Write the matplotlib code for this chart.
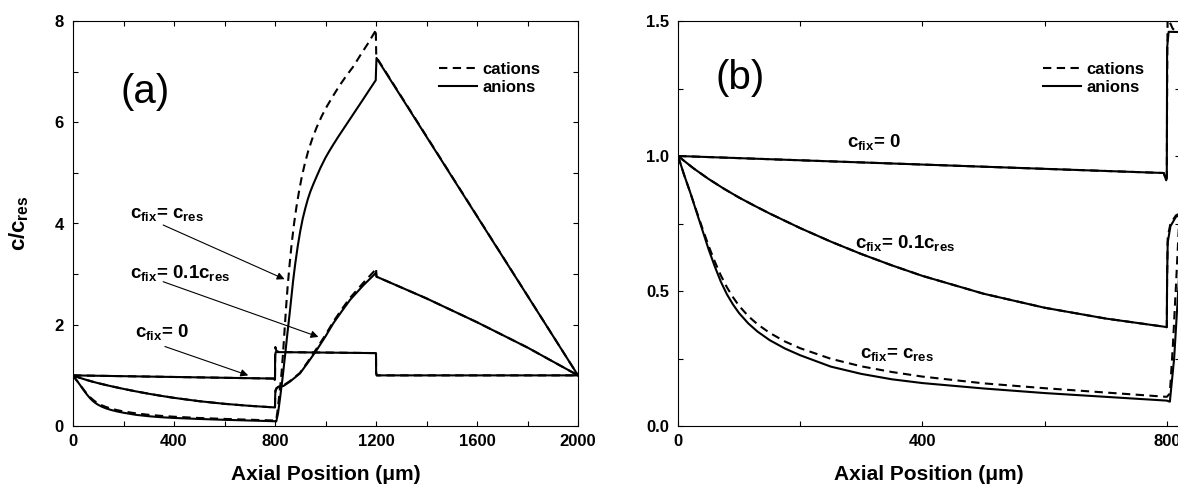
import numpy as np
import matplotlib
matplotlib.use('Agg')
from matplotlib import pyplot as plt
from matplotlib.font_manager import FontProperties
from matplotlib.ticker import MultipleLocator, FormatStrFormatter

plt.rcParams.update({
    'font.family': ['Liberation Sans', 'DejaVu Sans'],
    'font.weight': 'bold',
    'axes.labelweight': 'bold',
    'mathtext.fontset': 'custom',
    'mathtext.rm': 'Liberation Sans:bold',
    'mathtext.it': 'Liberation Sans:bold',
    'mathtext.bf': 'Liberation Sans:bold',
    'axes.linewidth': 0.8,
})

# c_fix = 0
x_zero = [0, 795, 799, 800, 800.5, 803, 1200, 1200.5, 1203, 2000]
anion_zero = [1.0, 0.937, 0.91, 0.92, 1.40, 1.46, 1.44, 1.05, 1.0, 1.0]
x_zero_cat = [0, 795, 799, 800, 800.6, 801.5, 804, 810, 830, 1200, 1200.5, 1203, 2000]
cation_zero = [1.0, 0.937, 0.91, 0.92, 1.30, 1.56, 1.50, 1.47, 1.46, 1.44, 1.05, 1.0, 1.0]

# c_fix = 0.1 c_res
x_tenth = [0, 25, 50, 75, 100, 125, 150, 200, 250, 300, 350, 400, 500, 600, 700, 795, 800, 800.5, 801.5,
           806, 815, 833, 860, 899, 930, 965, 1000, 1031, 1065, 1097, 1150, 1195, 1200, 1202,
           1400, 1600, 1800, 2000]
anion_tenth = [1.0, 0.955, 0.915, 0.879, 0.846, 0.816, 0.787, 0.733, 0.683, 0.637, 0.595, 0.556, 0.49, 0.438,
               0.398, 0.368, 0.366, 0.55, 0.68, 0.74, 0.775, 0.79, 0.88, 1.04, 1.25, 1.5, 1.77, 2.03, 2.27,
               2.49, 2.78, 3.0, 3.03, 2.95, 2.52, 2.05, 1.55, 1.0]
cation_tenth = [1.0, 0.955, 0.915, 0.879, 0.846, 0.816, 0.787, 0.733, 0.683, 0.637, 0.595, 0.556, 0.49, 0.438,
                0.398, 0.368, 0.366, 0.55, 0.70, 0.75, 0.78, 0.80, 0.89, 1.05, 1.27, 1.53, 1.80, 2.06, 2.31,
                2.53, 2.83, 3.07, 3.12, 2.95, 2.52, 2.05, 1.55, 1.0]

# c_fix = c_res
x_res = [0, 10, 20, 30, 40, 50, 60, 70, 80, 90, 100, 115, 130, 150, 175, 200, 250, 300, 350, 400, 500, 600,
         700, 800, 805, 812, 820, 830, 840, 850, 858, 865, 872, 880, 890, 900, 910, 920, 930, 940, 952, 965,
         980, 1000, 1015, 1031, 1050, 1070, 1090, 1110, 1130, 1150, 1175, 1199, 1200, 1202, 2000]
anion_res = [1.0, 0.93, 0.865, 0.795, 0.725, 0.655, 0.592, 0.535, 0.488, 0.45, 0.418, 0.38, 0.35, 0.318,
             0.287, 0.262, 0.22, 0.193, 0.173, 0.159, 0.139, 0.122, 0.108, 0.094, 0.09, 0.25, 0.55, 0.95,
             1.4, 1.87, 2.22, 2.55, 2.88, 3.2, 3.55, 3.85, 4.1, 4.3, 4.48, 4.63, 4.78, 4.93, 5.1, 5.3,
             5.43, 5.56, 5.71, 5.86, 6.01, 6.16, 6.31, 6.46, 6.65, 6.83, 7.0, 7.27, 1.0]
x_res_cat = [0, 10, 20, 30, 40, 50, 60, 70, 80, 90, 100, 115, 130, 150, 175, 200, 250, 300, 350, 400, 500, 600,
             700, 800, 805, 810, 815, 820, 826, 832, 838, 844, 850, 858, 866, 875, 885, 895, 906, 918, 932,
             948, 965, 985, 1005, 1030, 1055, 1080, 1110, 1140, 1170, 1196, 1199, 1200, 1201, 2000]
cation_res = [1.0, 0.93, 0.865, 0.798, 0.732, 0.668, 0.61, 0.558, 0.514, 0.477, 0.445, 0.407, 0.377, 0.345,
              0.313, 0.288, 0.249, 0.221, 0.2, 0.183, 0.158, 0.14, 0.124, 0.108, 0.12, 0.3, 0.52, 0.75, 1.05,
              1.45, 1.9, 2.35, 2.75, 3.2, 3.6, 3.98, 4.33, 4.63, 4.92, 5.18, 5.44, 5.68, 5.9, 6.12, 6.31,
              6.52, 6.72, 6.9, 7.1, 7.34, 7.57, 7.79, 7.84, 7.6, 7.29, 1.0]

series = [(x_zero, anion_zero, x_zero_cat, cation_zero),
          (x_tenth, anion_tenth, x_tenth, cation_tenth),
          (x_res, anion_res, x_res_cat, cation_res)]

W, H = 1178, 486
fig = plt.figure(figsize=(W / 100, H / 100), dpi=100)
axa = fig.add_axes([73 / W, 60 / H, 505 / W, 405 / H])
axb = fig.add_axes([678 / W, 60 / H, 502 / W, 405 / H])

lw = 1.5
dash = (0, (4, 2.6))
for ax in (axa, axb):
    for xa, ya, xc, yc in series:
        ax.plot(xc, yc, color='k', lw=lw, linestyle=dash)
        ax.plot(xa, ya, color='k', lw=lw, linestyle='-')
    ax.tick_params(which='both', direction='in', top=True, right=True, length=3.5, width=0.8, labelsize=12)
    ax.tick_params(axis='x', pad=6)
    ax.tick_params(axis='y', pad=6.5)
    ax.xaxis.set_major_locator(MultipleLocator(400))
    ax.xaxis.set_minor_locator(MultipleLocator(200))
    ax.set_xlabel(u'Axial Position (\u03bcm)', fontsize=15, labelpad=11)

axa.set_xlim(0, 2000)
axa.set_ylim(0, 8)
axa.yaxis.set_major_locator(MultipleLocator(2))
axa.yaxis.set_minor_locator(MultipleLocator(1))
axa.set_ylabel(r'c/$c_{res}$', fontsize=16, labelpad=17)

axb.set_xlim(0, 502 / 0.611)
axb.set_ylim(0, 1.5)
axb.yaxis.set_major_locator(MultipleLocator(0.5))
axb.yaxis.set_minor_locator(MultipleLocator(0.25))
axb.yaxis.set_major_formatter(FormatStrFormatter('%.1f'))

axa.text(287, 6.6, '(a)', fontsize=29, fontweight='normal', ha='center', va='center')
axb.text(101, 1.29, '(b)', fontsize=29, fontweight='normal', ha='center', va='center')

arrow = dict(arrowstyle='-|>', lw=0.8, color='k', mutation_scale=11, shrinkA=0, shrinkB=0)
fs = 13.5
axa.text(226, 4.11, r'$c_{fix}$= $c_{res}$', fontsize=fs, va='baseline')
axa.annotate('', xy=(838, 2.9), xytext=(357, 3.97), arrowprops=arrow)
axa.text(226, 2.92, r'$c_{fix}$= 0.1$c_{res}$', fontsize=fs, va='baseline')
axa.annotate('', xy=(972, 1.76), xytext=(357, 2.85), arrowprops=arrow)
axa.text(246, 1.76, r'$c_{fix}$= 0', fontsize=fs, va='baseline')
axa.annotate('', xy=(694, 1.0), xytext=(364, 1.57), arrowprops=arrow)

axb.text(277, 1.034, r'$c_{fix}$= 0', fontsize=fs, va='baseline')
axb.text(290, 0.658, r'$c_{fix}$= 0.1$c_{res}$', fontsize=fs, va='baseline')
axb.text(298, 0.251, r'$c_{fix}$= $c_{res}$', fontsize=fs, va='baseline')

for ax, x0 in ((axa, 0.725), (axb, 0.727)):
    h1, = ax.plot([], [], color='k', lw=lw, linestyle=dash)
    h2, = ax.plot([], [], color='k', lw=lw, linestyle='-')
    ax.legend([h1, h2], ['cations', 'anions'], loc='upper left', bbox_to_anchor=(x0, 0.9),
              frameon=False, fontsize=12, handlelength=2.3, handletextpad=0.3, labelspacing=0.2,
              borderpad=0, borderaxespad=0)

# tick labels only take the bold weight once they exist
tick_font = FontProperties(family='Liberation Sans', weight='bold', size=12)
fig.canvas.draw()
for ax in (axa, axb):
    for lbl in ax.get_xticklabels() + ax.get_yticklabels():
        lbl.set_fontproperties(tick_font)

fig.savefig('out.png', dpi=100)
